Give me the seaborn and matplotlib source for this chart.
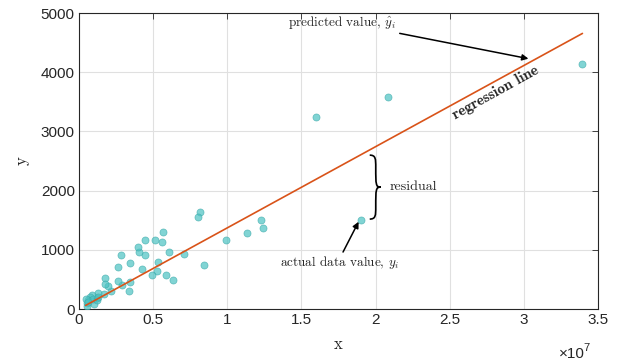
import numpy as np
import pandas as pd
import matplotlib
matplotlib.use("Agg")
import matplotlib.pyplot as plt
import seaborn as sns
from matplotlib.path import Path
from matplotlib.patches import PathPatch
from matplotlib.ticker import FuncFormatter

# data (x in units of 1e7)
x_scaled = [3.394, 2.086, 1.600, 1.902, 1.229, 1.241, 1.135, 0.993, 0.818, 0.803,
            0.841, 0.706, 0.632, 0.607, 0.587, 0.566, 0.558, 0.535, 0.528, 0.512,
            0.490, 0.445, 0.443, 0.427, 0.402, 0.400, 0.342, 0.342, 0.337, 0.292,
            0.281, 0.265, 0.263, 0.218, 0.196, 0.178, 0.178, 0.166, 0.126, 0.121,
            0.103, 0.086, 0.072, 0.063, 0.054, 0.052, 0.045, 0.095, 0.120, 0.060, 0.130]
y_vals = [4133, 3586, 3248, 1509, 1503, 1368, 1289, 1166, 1639, 1559,
          738, 934, 484, 957, 569, 1295, 1137, 799, 647, 1160,
          574, 912, 1160, 670, 968, 1053, 782, 461, 304, 400,
          912, 468, 709, 304, 394, 529, 417, 258, 265, 191,
          90, 236, 198, 152, 96, 51, 174, 170, 150, 120, 200]
slope = 1.372e-4

x_vals = np.array(x_scaled) * 1e7
df = pd.DataFrame({"x": x_vals, "y": y_vals})
xl = np.array([x_vals.min(), x_vals.max()])
line_df = pd.DataFrame({"x": xl, "y": slope * xl})

sns.set_style("white")
plt.rcParams["mathtext.fontset"] = "cm"

fig = plt.figure(figsize=(6.27, 3.64), dpi=100)
ax = fig.add_axes([0.126, 0.151, 0.828, 0.813])

sns.scatterplot(data=df, x="x", y="y", ax=ax, s=26, color="#4cc3c3", alpha=0.7,
                edgecolor="#3aa8a8", linewidth=0.5, zorder=3)
sns.lineplot(data=line_df, x="x", y="y", ax=ax, color="#D95319", linewidth=1.2, zorder=4)

ax.set_xlim(0, 3.5e7)
ax.set_ylim(0, 5000)
ax.set_xticks(np.arange(0, 3.51e7, 0.5e7))
ax.set_yticks(np.arange(0, 5001, 1000))
ax.xaxis.set_major_formatter(FuncFormatter(lambda v, p: "%g" % round(v / 1e7, 3)))
ax.grid(True, color="#e0e0e0", linewidth=0.8)
ax.set_axisbelow(True)
for s in ax.spines.values():
    s.set_color("#262626")
    s.set_linewidth(0.8)
ax.tick_params(direction="in", length=4, width=0.6, top=True, right=True,
               labelsize=11, colors="#262626", labelcolor="#262626", pad=3)
for lab in ax.get_xticklabels() + ax.get_yticklabels():
    lab.set_family("Liberation Sans")

# exponent label
fig.text(559 / 627, 1 - 361 / 364, "\u00d710", ha="left", va="bottom",
         fontsize=11, family="Liberation Sans", color="#262626")
fig.text(583.5 / 627, 1 - 343 / 364, "7", ha="left", va="top",
         fontsize=8, family="Liberation Sans", color="#262626")

ax.set_xlabel("x", family="cmr10", fontsize=12, color="#262626", labelpad=7)
ax.set_ylabel("y", family="cmr10", fontsize=12, color="#262626", labelpad=8)

# annotations
ax.annotate(r"predicted value, $\hat{y}_i$", xy=(3.03e7, 4230), xytext=(2.14e7, 4848),
            ha="right", va="center", fontsize=9.5, family="cmr10",
            arrowprops=dict(arrowstyle="-|>", color="black", lw=1.1, shrinkA=0, shrinkB=0,
                            mutation_scale=9))
ax.annotate("", xy=(1.885e7, 1475), xytext=(1.78e7, 963),
            arrowprops=dict(arrowstyle="-|>", color="black", lw=1.1, shrinkA=0, shrinkB=0,
                            mutation_scale=9))
ax.text(1.76e7, 790, r"actual data value, $y_i$", ha="center", va="center",
        fontsize=9.5, family="cmr10")
ax.text(2.81e7, 3660, "regression line", fontsize=11, family="cmb10", rotation=29,
        ha="center", va="center", rotation_mode="anchor")
ax.text(2.095e7, 2061, "residual", fontsize=10, family="cmr10", ha="left", va="center")

# curly brace
x0, xt = 1.96e7, 2.035e7
yt, yb = 2600, 1520
ym = (yt + yb) / 2
xm = (x0 + xt) / 2 + 0.003e7
verts = [(x0, yt), (xm, yt), (xm, yt - 60), (xm, ym + 60 + (yt - ym) * 0.5),
         (xm, ym + 40), (xm, ym), (xt, ym),
         (xm, ym), (xm, ym - 40), (xm, ym - 60 - (ym - yb) * 0.5),
         (xm, yb + 60), (xm, yb), (x0, yb)]
codes = [Path.MOVETO] + [Path.CURVE4] * 12
ax.add_patch(PathPatch(Path(verts, codes), fill=False, lw=1.2, color="black"))

fig.savefig("out.png", dpi=100)
